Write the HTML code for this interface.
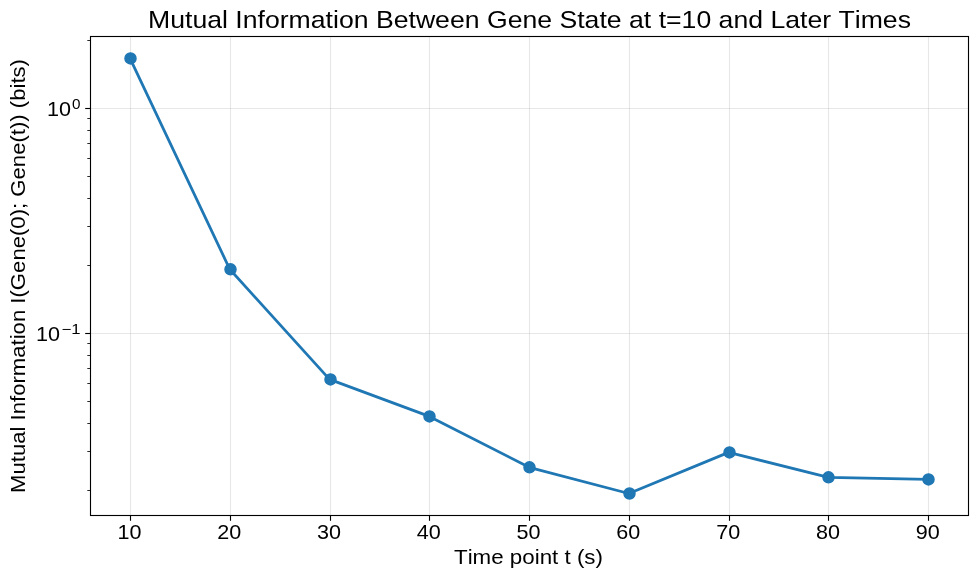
<!DOCTYPE html>
<html><head><meta charset="utf-8">
<style>
html,body{margin:0;padding:0;background:#fff;}
body{width:978px;height:578px;overflow:hidden;}
svg{display:block;will-change:transform;}
.g{stroke:#b0b0b0;stroke-opacity:0.3;stroke-width:1.11;fill:none;}
.ln{stroke:#1f77b4;stroke-width:2.78;fill:none;stroke-linejoin:round;stroke-linecap:butt;}
.mk{fill:#1f77b4;stroke:#1f77b4;stroke-width:1.39;}
.sp{fill:none;stroke:#000;stroke-width:1.11;stroke-linejoin:miter;}
.tk{stroke:#000;stroke-width:1.11;}
.mt{stroke:#000;stroke-width:0.83;}
text{font-family:"Liberation Sans",sans-serif;fill:#000;font-kerning:none;}
</style></head>
<body>
<svg width="978" height="578" viewBox="0 0 978 578">
<rect x="0" y="0" width="978" height="578" fill="#fff"/>
<line x1="130.50" y1="36.5" x2="130.50" y2="515.5" class="g"/>
<line x1="230.50" y1="36.5" x2="230.50" y2="515.5" class="g"/>
<line x1="330.50" y1="36.5" x2="330.50" y2="515.5" class="g"/>
<line x1="429.50" y1="36.5" x2="429.50" y2="515.5" class="g"/>
<line x1="529.50" y1="36.5" x2="529.50" y2="515.5" class="g"/>
<line x1="629.50" y1="36.5" x2="629.50" y2="515.5" class="g"/>
<line x1="729.50" y1="36.5" x2="729.50" y2="515.5" class="g"/>
<line x1="828.50" y1="36.5" x2="828.50" y2="515.5" class="g"/>
<line x1="928.50" y1="36.5" x2="928.50" y2="515.5" class="g"/>
<line x1="90.5" y1="108.50" x2="968.5" y2="108.50" class="g"/>
<line x1="90.5" y1="333.50" x2="968.5" y2="333.50" class="g"/>
<path d="M130.03,58.40 L229.80,269.30 L329.57,379.40 L429.34,416.40 L529.11,467.30 L628.88,493.50 L728.65,452.40 L828.42,477.30 L928.19,479.40" class="ln"/>
<circle cx="130.50" cy="58.40" r="5.556" class="mk"/>
<circle cx="230.50" cy="269.30" r="5.556" class="mk"/>
<circle cx="330.50" cy="379.40" r="5.556" class="mk"/>
<circle cx="429.50" cy="416.40" r="5.556" class="mk"/>
<circle cx="529.50" cy="467.30" r="5.556" class="mk"/>
<circle cx="629.50" cy="493.50" r="5.556" class="mk"/>
<circle cx="729.50" cy="452.40" r="5.556" class="mk"/>
<circle cx="828.50" cy="477.30" r="5.556" class="mk"/>
<circle cx="928.50" cy="479.40" r="5.556" class="mk"/>
<rect x="90.5" y="36.5" width="878.00" height="479.00" class="sp"/>
<line x1="130.50" y1="515.5" x2="130.50" y2="520.80" class="tk"/>
<line x1="230.50" y1="515.5" x2="230.50" y2="520.80" class="tk"/>
<line x1="330.50" y1="515.5" x2="330.50" y2="520.80" class="tk"/>
<line x1="429.50" y1="515.5" x2="429.50" y2="520.80" class="tk"/>
<line x1="529.50" y1="515.5" x2="529.50" y2="520.80" class="tk"/>
<line x1="629.50" y1="515.5" x2="629.50" y2="520.80" class="tk"/>
<line x1="729.50" y1="515.5" x2="729.50" y2="520.80" class="tk"/>
<line x1="828.50" y1="515.5" x2="828.50" y2="520.80" class="tk"/>
<line x1="928.50" y1="515.5" x2="928.50" y2="520.80" class="tk"/>
<line x1="85.20" y1="108.50" x2="90.5" y2="108.50" class="tk"/>
<line x1="85.20" y1="333.50" x2="90.5" y2="333.50" class="tk"/>
<line x1="87.30" y1="490.50" x2="90.5" y2="490.50" class="mt"/>
<line x1="87.30" y1="451.50" x2="90.5" y2="451.50" class="mt"/>
<line x1="87.30" y1="423.50" x2="90.5" y2="423.50" class="mt"/>
<line x1="87.30" y1="401.50" x2="90.5" y2="401.50" class="mt"/>
<line x1="87.30" y1="383.50" x2="90.5" y2="383.50" class="mt"/>
<line x1="87.30" y1="368.50" x2="90.5" y2="368.50" class="mt"/>
<line x1="87.30" y1="355.50" x2="90.5" y2="355.50" class="mt"/>
<line x1="87.30" y1="343.50" x2="90.5" y2="343.50" class="mt"/>
<line x1="87.30" y1="265.50" x2="90.5" y2="265.50" class="mt"/>
<line x1="87.30" y1="226.50" x2="90.5" y2="226.50" class="mt"/>
<line x1="87.30" y1="198.50" x2="90.5" y2="198.50" class="mt"/>
<line x1="87.30" y1="176.50" x2="90.5" y2="176.50" class="mt"/>
<line x1="87.30" y1="158.50" x2="90.5" y2="158.50" class="mt"/>
<line x1="87.30" y1="143.50" x2="90.5" y2="143.50" class="mt"/>
<line x1="87.30" y1="130.50" x2="90.5" y2="130.50" class="mt"/>
<line x1="87.30" y1="118.50" x2="90.5" y2="118.50" class="mt"/>
<line x1="87.30" y1="40.50" x2="90.5" y2="40.50" class="mt"/>
<text x="148" y="28" font-size="24.2" textLength="763" lengthAdjust="spacingAndGlyphs">Mutual Information Between Gene State at t=10 and Later Times</text>
<text x="117.53" y="539" font-size="20.6" textLength="24" lengthAdjust="spacingAndGlyphs">10</text>
<text x="217.3" y="539" font-size="20.6" textLength="24" lengthAdjust="spacingAndGlyphs">20</text>
<text x="317.07" y="539" font-size="20.6" textLength="24" lengthAdjust="spacingAndGlyphs">30</text>
<text x="416.84" y="539" font-size="20.6" textLength="24" lengthAdjust="spacingAndGlyphs">40</text>
<text x="516.61" y="539" font-size="20.6" textLength="24" lengthAdjust="spacingAndGlyphs">50</text>
<text x="616.38" y="539" font-size="20.6" textLength="24" lengthAdjust="spacingAndGlyphs">60</text>
<text x="716.15" y="539" font-size="20.6" textLength="24" lengthAdjust="spacingAndGlyphs">70</text>
<text x="815.92" y="539" font-size="20.6" textLength="24" lengthAdjust="spacingAndGlyphs">80</text>
<text x="915.69" y="539" font-size="20.6" textLength="24" lengthAdjust="spacingAndGlyphs">90</text>
<text x="47" y="116" font-size="20.7" textLength="24" lengthAdjust="spacingAndGlyphs">10</text>
<text x="72" y="108.9" font-size="14.1" textLength="8.5" lengthAdjust="spacingAndGlyphs">0</text>
<text x="36" y="341" font-size="20.7" textLength="24" lengthAdjust="spacingAndGlyphs">10</text>
<text x="61.5" y="334" font-size="14.1" textLength="19" lengthAdjust="spacingAndGlyphs">−1</text>
<text x="454" y="564" font-size="20.2" textLength="149" lengthAdjust="spacingAndGlyphs">Time point t (s)</text>
<text transform="translate(24.5,493) rotate(-90)" x="0" y="0" font-size="20.2" textLength="434" lengthAdjust="spacingAndGlyphs">Mutual Information I(Gene(0); Gene(t)) (bits)</text>
</svg>
</body></html>
